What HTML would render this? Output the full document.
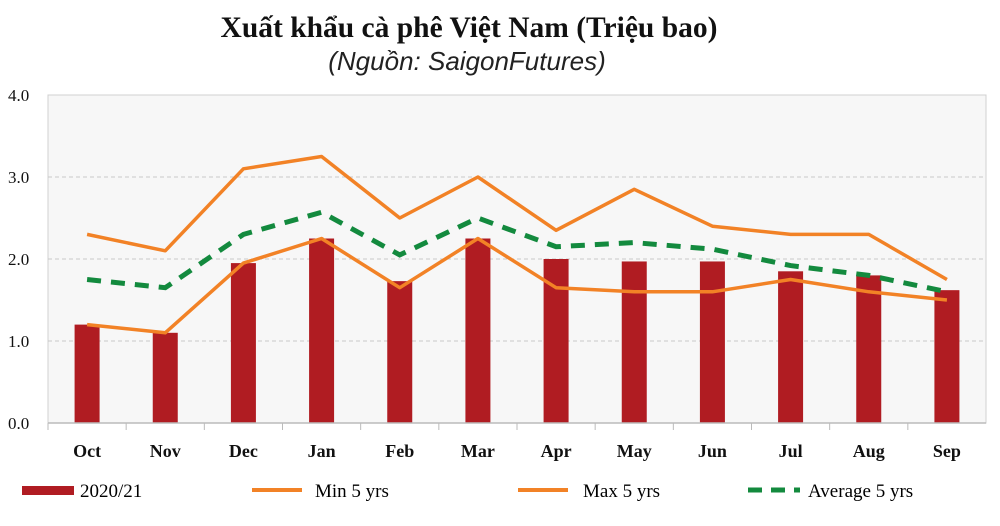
<!DOCTYPE html>
<html><head><meta charset="utf-8"><style>
body{margin:0;background:#fff;}
svg{display:block;font-family:"Liberation Serif",serif;}
</style></head><body>
<svg id="chart" width="1000" height="526">
<text x="469" y="37" text-anchor="middle" font-size="29.5" font-weight="bold" fill="#111">Xuất khẩu cà phê Việt Nam (Triệu bao)</text>
<text x="467" y="70" text-anchor="middle" font-size="26" font-style="italic" font-family="Liberation Sans, sans-serif" fill="#222">(Nguồn: SaigonFutures)</text>
<rect x="48" y="95" width="938" height="328" fill="#f7f7f7" stroke="#d0d0d0"/>
<g id="grid"></g><g id="bars"></g><g id="lines"></g><g id="axes"></g>
<g>
<rect x="22" y="486" width="52" height="9" fill="#b01c22"/>
<text x="80" y="497" font-size="19">2020/21</text>
<line x1="252" y1="490" x2="302" y2="490" stroke="#f28226" stroke-width="4"/>
<text x="315" y="497" font-size="19">Min 5 yrs</text>
<line x1="518" y1="490" x2="568" y2="490" stroke="#f28226" stroke-width="4"/>
<text x="583" y="497" font-size="19">Max 5 yrs</text>
<line x1="748" y1="490" x2="800" y2="490" stroke="#138a3e" stroke-width="5" stroke-dasharray="14,9"/>
<text x="808" y="497" font-size="19">Average 5 yrs</text>
</g>
</svg>
<script>
const categories=["Oct","Nov","Dec","Jan","Feb","Mar","Apr","May","Jun","Jul","Aug","Sep"];
const bars2021=[1.2,1.1,1.95,2.25,1.73,2.25,2.0,1.97,1.97,1.85,1.8,1.62];
const min5=[1.2,1.1,1.95,2.25,1.65,2.25,1.65,1.6,1.6,1.75,1.6,1.5];
const max5=[2.3,2.1,3.1,3.25,2.5,3.0,2.35,2.85,2.4,2.3,2.3,1.75];
const avg5=[1.75,1.65,2.3,2.57,2.05,2.5,2.15,2.2,2.12,1.92,1.8,1.6];
const yTicks=[0,1,2,3,4];
const NS="http://www.w3.org/2000/svg";
const L=48,R=986,T=95,B=423,band=(R-L)/categories.length;
const x=i=>L+band*(i+0.5);
const y=v=>B-(v/4)*(B-T);
function mk(tag,attrs,parent){const e=document.createElementNS(NS,tag);for(const k in attrs)e.setAttribute(k,attrs[k]);document.getElementById(parent).appendChild(e);return e;}
yTicks.forEach(t=>{
 if(t>0&&t<4){const g=mk("line",{x1:L,x2:R,y1:y(t),y2:y(t),stroke:"#c8c8c8","stroke-dasharray":"4,3"},"grid");
 
 }
 const tx=mk("text",{x:8,y:y(t)+6,"font-size":17,fill:"#111"},"axes");tx.textContent=t.toFixed(1);
 
 
});
mk("line",{x1:L,x2:R,y1:B,y2:B,stroke:"#bbb","stroke-width":1.5},"axes");
categories.forEach((c,i)=>{
 const tk=mk("line",{x1:L+band*i,x2:L+band*i,y1:B,y2:B+7,stroke:"#bbb"},"axes");
 
 
 const t=mk("text",{x:x(i),y:457,"text-anchor":"middle","font-size":18,"font-weight":"bold",fill:"#111"},"axes");t.textContent=c;
 
 
 const b=mk("rect",{x:x(i)-12.5,y:y(bars2021[i]),width:25,height:B-y(bars2021[i]),fill:"#b01c22"},"bars");
 
 
});
function line(arr,attrs,name){const p=mk("polyline",Object.assign({points:arr.map((v,i)=>x(i)+","+y(v)).join(" "),fill:"none"},attrs),"lines");
 
 }
line(min5,{stroke:"#f28226","stroke-width":3.5,"stroke-linejoin":"round"},"min-5yrs-line");
line(max5,{stroke:"#f28226","stroke-width":3.5,"stroke-linejoin":"round"},"max-5yrs-line");
line(avg5,{stroke:"#138a3e","stroke-width":5,"stroke-dasharray":"14,10"},"average-5yrs-line");
</script>
</body></html>
